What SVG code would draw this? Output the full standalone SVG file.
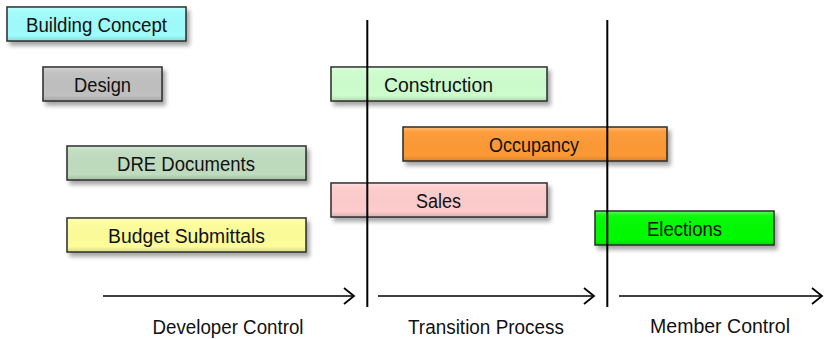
<svg xmlns="http://www.w3.org/2000/svg" width="827" height="339" viewBox="0 0 827 339">
<style>
.box{stroke:#2a2a2a;stroke-width:1.5;filter:url(#sh)}
.gl{fill:url(#gloss);stroke:none;pointer-events:none}
.lbl{font-family:"Liberation Sans",Arial,sans-serif;font-size:20.5px;fill:#111;text-anchor:middle}
.axis{font-family:"Liberation Sans",Arial,sans-serif;font-size:20.5px;fill:#111;text-anchor:middle}
.conn{stroke:#000;stroke-width:1.6;fill:none}
.vline{stroke:#000;stroke-width:2;fill:none}
</style>
<defs>
<filter id="sh" x="-10%" y="-30%" width="125%" height="170%">
<feGaussianBlur in="SourceAlpha" stdDeviation="2.2"/>
<feOffset dx="3" dy="4" result="b"/>
<feComponentTransfer><feFuncA type="linear" slope="0.35"/></feComponentTransfer>
<feMerge><feMergeNode/><feMergeNode in="SourceGraphic"/></feMerge>
</filter>
<linearGradient id="gloss" x1="0" y1="0" x2="0" y2="1">
<stop offset="0" stop-color="#fff" stop-opacity="0.3"/>
<stop offset="0.12" stop-color="#fff" stop-opacity="0.05"/>
<stop offset="0.85" stop-color="#000" stop-opacity="0"/>
<stop offset="1" stop-color="#000" stop-opacity="0.12"/>
</linearGradient>
<marker id="chev" markerUnits="userSpaceOnUse" markerWidth="14" markerHeight="20" refX="11" refY="9" orient="auto" overflow="visible">
<path d="M1,1 L11,9 L1,17" fill="none" stroke="#000" stroke-width="1.8"/>
</marker>
</defs>

<g id="node-building-concept">
<rect class="box" x="7" y="7" width="179" height="34" fill="#9ffcfc"/>
<rect class="gl" x="7.8" y="7.8" width="177.4" height="32.4"/>
<text class="lbl" x="96.5" y="32" textLength="141" lengthAdjust="spacingAndGlyphs">Building Concept</text>
</g>
<g id="node-design">
<rect class="box" x="43" y="67" width="119" height="34" fill="#c0c0c0"/>
<rect class="gl" x="43.8" y="67.8" width="117.4" height="32.4"/>
<text class="lbl" x="102.5" y="92" textLength="57" lengthAdjust="spacingAndGlyphs">Design</text>
</g>
<g id="node-construction">
<rect class="box" x="331" y="67" width="216" height="34" fill="#cdfdcd"/>
<rect class="gl" x="331.8" y="67.8" width="214.4" height="32.4"/>
<text class="lbl" x="438.5" y="92" textLength="109" lengthAdjust="spacingAndGlyphs">Construction</text>
</g>
<g id="node-occupancy">
<rect class="box" x="403" y="127" width="264" height="34" fill="#fd9935"/>
<rect class="gl" x="403.8" y="127.8" width="262.4" height="32.4"/>
<text class="lbl" x="534" y="152" textLength="90" lengthAdjust="spacingAndGlyphs">Occupancy</text>
</g>
<g id="node-dre-documents">
<rect class="box" x="67" y="146" width="239" height="34" fill="#bfdcbf"/>
<rect class="gl" x="67.8" y="146.8" width="237.4" height="32.4"/>
<text class="lbl" x="186" y="171" textLength="138" lengthAdjust="spacingAndGlyphs">DRE Documents</text>
</g>
<g id="node-sales">
<rect class="box" x="331" y="183" width="216" height="34" fill="#fdcccc"/>
<rect class="gl" x="331.8" y="183.8" width="214.4" height="32.4"/>
<text class="lbl" x="438.5" y="208" textLength="45" lengthAdjust="spacingAndGlyphs">Sales</text>
</g>
<g id="node-elections">
<rect class="box" x="595" y="211" width="179" height="34" fill="#05fb05"/>
<rect class="gl" x="595.8" y="211.8" width="177.4" height="32.4"/>
<text class="lbl" x="684.5" y="236" textLength="75" lengthAdjust="spacingAndGlyphs">Elections</text>
</g>
<g id="node-budget-submittals">
<rect class="box" x="67" y="218" width="239" height="34" fill="#fdfd9a"/>
<rect class="gl" x="67.8" y="218.8" width="237.4" height="32.4"/>
<text class="lbl" x="186.5" y="243" textLength="157" lengthAdjust="spacingAndGlyphs">Budget Submittals</text>
</g>

<g id="dividers">
<line class="vline" x1="367.3" y1="20" x2="367.3" y2="307"/>
<line class="vline" x1="607.3" y1="20" x2="607.3" y2="307"/>
</g>

<g id="connectors">
<line class="conn" x1="103" y1="296" x2="354" y2="296" marker-end="url(#chev)"/>
<line class="conn" x1="378" y1="296" x2="594" y2="296" marker-end="url(#chev)"/>
<line class="conn" x1="619" y1="296" x2="822" y2="296" marker-end="url(#chev)"/>
</g>

<g id="phase-labels">
<text class="axis" x="228" y="334" textLength="151" lengthAdjust="spacingAndGlyphs">Developer Control</text>
<text class="axis" x="486" y="334" textLength="156" lengthAdjust="spacingAndGlyphs">Transition Process</text>
<text class="axis" x="720" y="333" textLength="140" lengthAdjust="spacingAndGlyphs">Member Control</text>
</g>
</svg>
